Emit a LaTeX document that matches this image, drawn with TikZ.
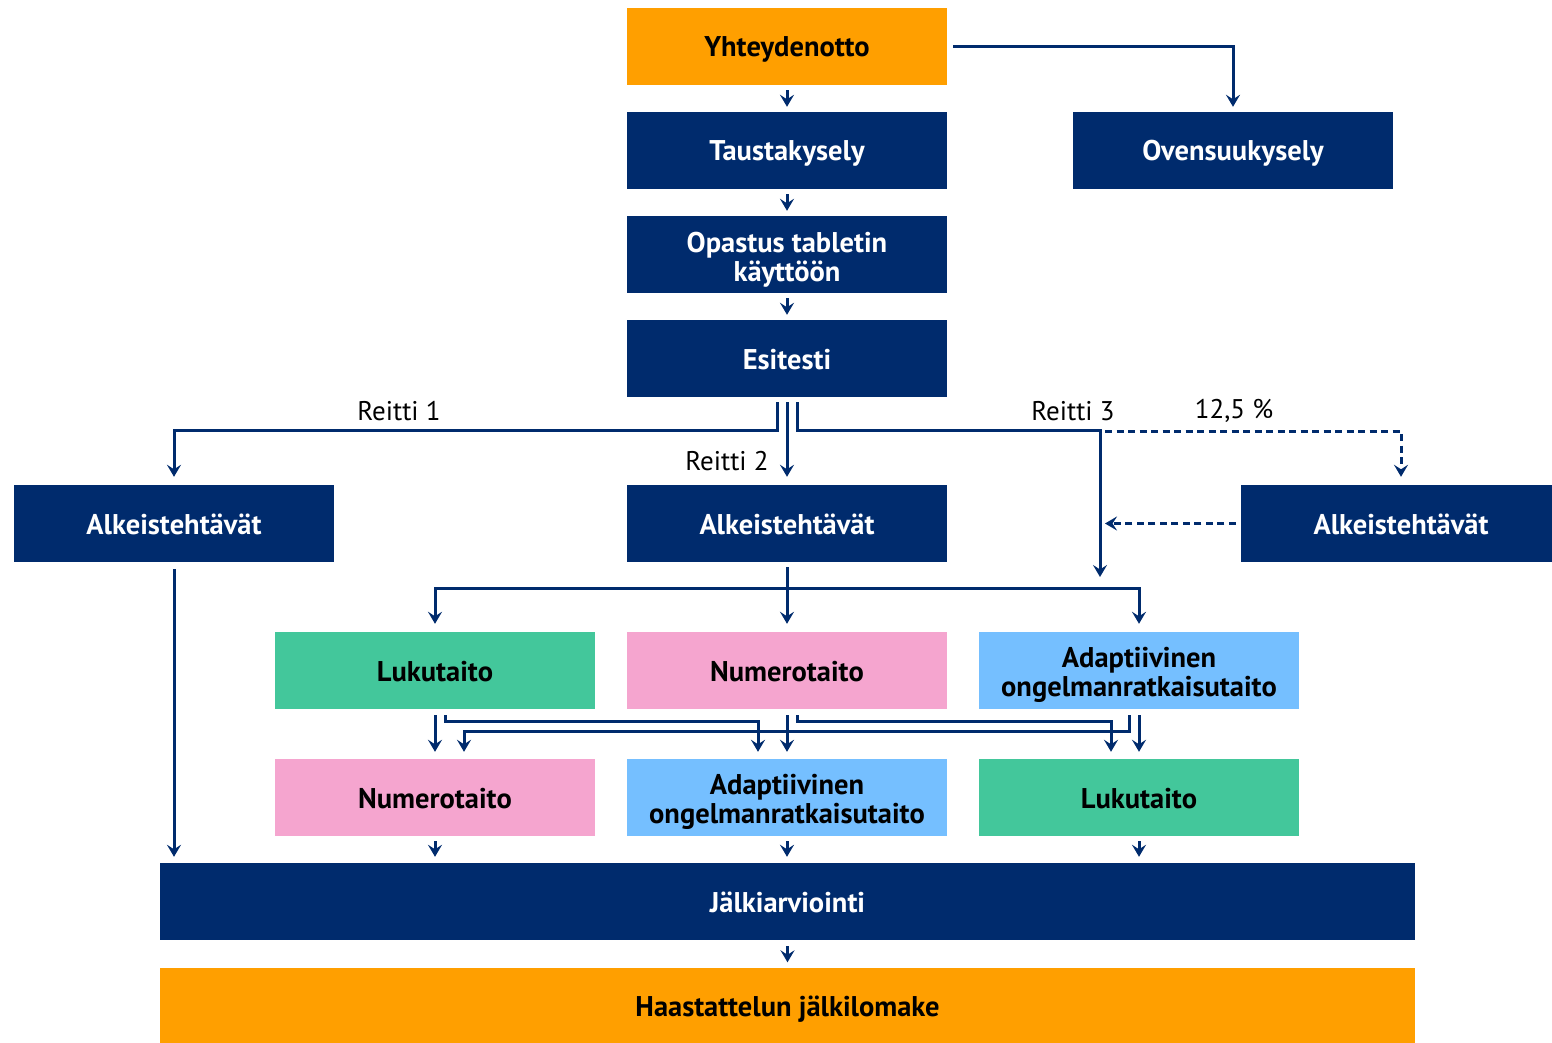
\documentclass[tikz,border=0pt]{standalone}
\usepackage{fontspec}
\setmainfont{PT Sans}
\usetikzlibrary{arrows.meta,calc}
\definecolor{navy}{HTML}{002B6D}
\definecolor{orng}{HTML}{FF9F00}
\definecolor{grn}{HTML}{43C79B}
\definecolor{pnk}{HTML}{F5A5CF}
\definecolor{lblue}{HTML}{75BFFF}
\newcommand{\topstrut}{\rule{0pt}{30pt}}
\tikzset{
  box/.style={minimum width=320pt,minimum height=77pt,inner sep=2pt,align=center,
    font=\fontsize{28.5}{29}\selectfont\bfseries,text=white,fill=navy,
    execute at begin node={\rule{0pt}{27pt}},
    execute at end node={\rule[-6pt]{0pt}{0pt}}},
  obox/.style={box,fill=orng,text=black},
  gbox/.style={box,fill=grn,text=black},
  pbox/.style={box,fill=pnk,text=black},
  bbox/.style={box,fill=lblue,text=black},
  lbl/.style={font=\fontsize{27}{29}\selectfont,text=black,inner sep=0pt},
  conn/.style={draw=navy,line width=3pt},
  arr/.style={conn,-{Stealth[length=12pt,width=14pt,inset=4.5pt]}},
  darr/.style={arr,dash pattern=on 7pt off 4.5pt},
}
\begin{document}
\begin{tikzpicture}[x=1pt,y=-1pt]
\useasboundingbox (0,0) rectangle (1552,1043);
% top column
\node[obox] (yht) at (787,46.5) {Yhteydenotto};
\node[box] (tau) at (787,150.5) {Taustakysely};
\node[box] (ove) at (1233,150.5) {Ovensuukysely};
\node[box] (opa) at (787,254.5) {\topstrut Opastus tabletin\\käyttöön};
\node[box] (esi) at (787,358.5) {Esitesti};
% Alkeistehtävät
\node[box] (alka) at (174,523.5) {Alkeistehtävät};
\node[box] (alkb) at (787,523.5) {Alkeistehtävät};
\node[box] (alkc) at (1401,523.5) {Alkeistehtävät};
% row 2
\node[gbox] (lukb) at (435,670.5) {Lukutaito};
\node[pbox] (numb) at (787,670.5) {Numerotaito};
\node[bbox] (adab) at (1139,670.5) {\topstrut Adaptiivinen\\ongelmanratkaisutaito};
% row 3
\node[pbox] (numc) at (435,797.5) {Numerotaito};
\node[bbox] (adac) at (787,797.5) {\topstrut Adaptiivinen\\ongelmanratkaisutaito};
\node[gbox] (lukc) at (1139,797.5) {Lukutaito};
% bottom
\node[box,minimum width=1255pt] (jal) at (787.5,901.5) {Jälkiarviointi};
\node[obox,minimum width=1255pt] (haa) at (787.5,1006) {Haastattelun jälkilomake};
% labels
\node[lbl] (r1) at (399,411) {Reitti 1};
\node[lbl] (r2) at (727,461) {Reitti 2};
\node[lbl] (r3) at (1073,411) {Reitti 3};
\node[lbl] (pc) at (1234,411) {12,5 \%};
% free ends
\coordinate (r3end) at (1100,577);
\coordinate (j3) at (1100,431);
\coordinate (dend) at (1105,523.5);
% top arrows
\draw[arr] ([yshift=-5pt]yht.south) -- ([yshift=5pt]tau.north);
\draw[arr] ([yshift=-5pt]tau.south) -- ([yshift=5pt]opa.north);
\draw[arr] ([yshift=-5pt]opa.south) -- ([yshift=5pt]esi.north);
\draw[arr] ([xshift=6pt]yht.east) -| ([yshift=5pt]ove.north);
% routes
\draw[arr] ([xshift=-10pt,yshift=-5pt]esi.south) -- ++(0,28) -| ([yshift=8pt]alka.north);
\draw[arr] ([yshift=-5pt]esi.south) -- ([yshift=8pt]alkb.north);
\draw[arr] ([xshift=10pt,yshift=-5pt]esi.south) -- ++(0,28) -| (r3end);
\draw[darr] ([xshift=5pt]j3) -| ([yshift=8pt]alkc.north);
\draw[darr] ([xshift=-5pt]alkc.west) -- (dend);
% left column down
\draw[arr] ([yshift=-7pt]alka.south) -- ($(alka.south |- jal.north)+(0,-6)$);
% middle Alkeistehtävät branches
\draw[conn] ([yshift=-5pt]alkb.south) -- ++(0,21) coordinate (br);
\draw[arr] (br) -| ([yshift=8pt]lukb.north);
\draw[arr] (br) -| ([yshift=8pt]adab.north);
\draw[arr] ([yshift=-5pt]alkb.south) -- ([yshift=8pt]numb.north);
% row 2 -> row 3
\draw[arr] ([yshift=-6pt]lukb.south) -- ([yshift=7pt]numc.north);
\draw[arr] ([xshift=10pt,yshift=-6pt]lukb.south) -- ++(0,6) -| ([xshift=-29pt,yshift=7pt]adac.north);
\draw[arr] ([yshift=-6pt]numb.south) -- ([yshift=7pt]adac.north);
\draw[arr] ([xshift=10pt,yshift=-6pt]numb.south) -- ++(0,6) -| ([xshift=-28pt,yshift=7pt]lukc.north);
\draw[arr] ([yshift=-6pt]adab.south) -- ([yshift=7pt]lukc.north);
\draw[arr] ([xshift=-10pt,yshift=-6pt]adab.south) -- ++(0,16) -| ([xshift=29pt,yshift=7pt]numc.north);
% row 3 -> Jälkiarviointi
\draw[arr] ([yshift=-5pt]numc.south) -- ($(numc.south |- jal.north)+(0,-6)$);
\draw[arr] ([yshift=-5pt]adac.south) -- ($(adac.south |- jal.north)+(0,-6)$);
\draw[arr] ([yshift=-5pt]lukc.south) -- ($(lukc.south |- jal.north)+(0,-6)$);
\draw[arr] ([yshift=-6pt]jal.south) -- ([yshift=5pt]haa.north);
\end{tikzpicture}
\end{document}
